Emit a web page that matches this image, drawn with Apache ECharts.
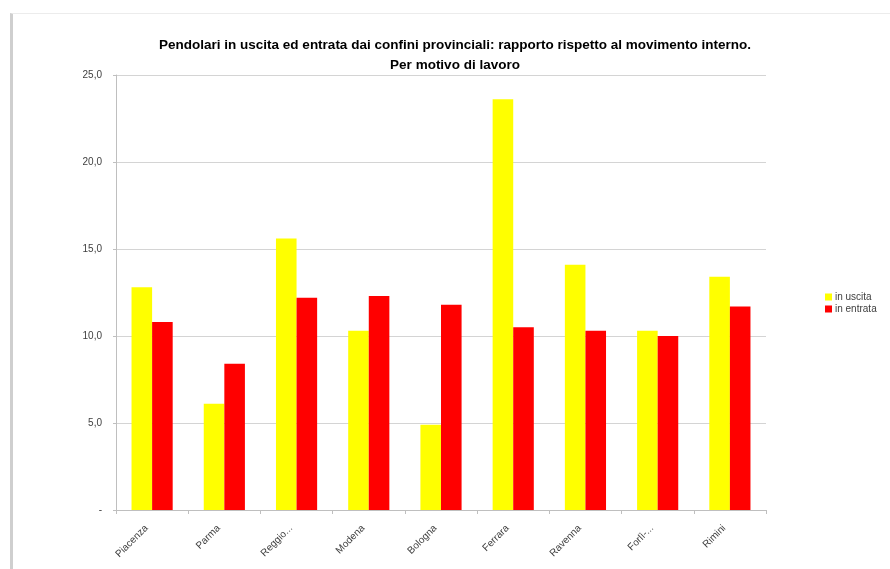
<!DOCTYPE html>
<html>
<head>
<meta charset="utf-8">
<script src="https://cdn.jsdelivr.net/npm/echarts@6/dist/echarts.min.js"></script>
<style>
html,body{margin:0;padding:0;background:#fff;}
#frame{position:absolute;left:10px;top:13px;width:880px;height:556px;border-left:3px solid #cfcfcf;border-top:1px solid #ececec;box-sizing:border-box;}
#chart{position:absolute;left:0;top:0;width:890px;height:569px;}
</style>
</head>
<body>
<div id="frame"></div>
<div id="chart"></div>
<script>
const titleText = 'Pendolari in uscita ed entrata dai confini provinciali: rapporto rispetto al movimento interno.\nPer motivo di lavoro';
const categories = ['Piacenza', 'Parma', 'Reggio...', 'Modena', 'Bologna', 'Ferrara', 'Ravenna', 'Forlì-...', 'Rimini'];
const seriesNames = ['in uscita', 'in entrata'];
const inUscita = [12.8, 6.1, 15.6, 10.3, 4.9, 23.6, 14.1, 10.3, 13.4];
const inEntrata = [10.8, 8.4, 12.2, 12.3, 11.8, 10.5, 10.3, 10.0, 11.7];
const yTicks = [0, 5, 10, 15, 20, 25];
const FONT = 'Liberation Sans, Arial, sans-serif';

const chart = echarts.init(document.getElementById('chart'), null, {renderer: 'canvas'});
chart.setOption({
  backgroundColor: 'transparent',
  animation: false,
  title: {
    text: titleText,
    left: 450,
    textAlign: 'center',
    top: 30,
    textStyle: {
      fontFamily: FONT,
      fontSize: 13.5,
      fontWeight: 'bold',
      color: '#000',
      lineHeight: 20
    }
  },
  legend: {
    orient: 'vertical',
    left: 820,
    top: 287,
    itemWidth: 7,
    itemHeight: 7,
    itemGap: 2,
    icon: 'rect',
    data: seriesNames,
    textStyle: {fontFamily: FONT, fontSize: 10, color: '#404040', padding: [0, 0, 0, -2]}
  },
  grid: {left: 116, right: 124, top: 75, bottom: 59, containLabel: false},
  xAxis: {
    type: 'category',
    data: categories,
    axisLine: {lineStyle: {color: '#bfbfbf', width: 1}},
    axisTick: {show: true, alignWithLabel: false, length: 4, lineStyle: {color: '#bfbfbf'}},
    axisLabel: {
      rotate: 45,
      interval: 0,
      margin: 11,
      padding: [0, 8, 0, 0],
      fontFamily: FONT,
      fontSize: 10,
      color: '#404040'
    }
  },
  yAxis: {
    type: 'value',
    min: yTicks[0],
    max: yTicks[yTicks.length - 1],
    interval: 5,
    axisLine: {show: true, lineStyle: {color: '#bfbfbf'}},
    axisTick: {show: true, length: 3, lineStyle: {color: '#bfbfbf'}},
    splitLine: {lineStyle: {color: '#d4d4d4', width: 1}},
    axisLabel: {
      margin: 14,
      fontFamily: FONT,
      fontSize: 10,
      color: '#404040',
      formatter: function (v) { return v === 0 ? '-' : v.toFixed(1).replace('.', ','); }
    }
  },
  series: [
    {name: seriesNames[0], type: 'bar', data: inUscita, itemStyle: {color: '#ffff00'}, barGap: '0%', barCategoryGap: '43%'},
    {name: seriesNames[1], type: 'bar', data: inEntrata, itemStyle: {color: '#ff0000'}, barGap: '0%', barCategoryGap: '43%'}
  ]
});
</script>
</body>
</html>
